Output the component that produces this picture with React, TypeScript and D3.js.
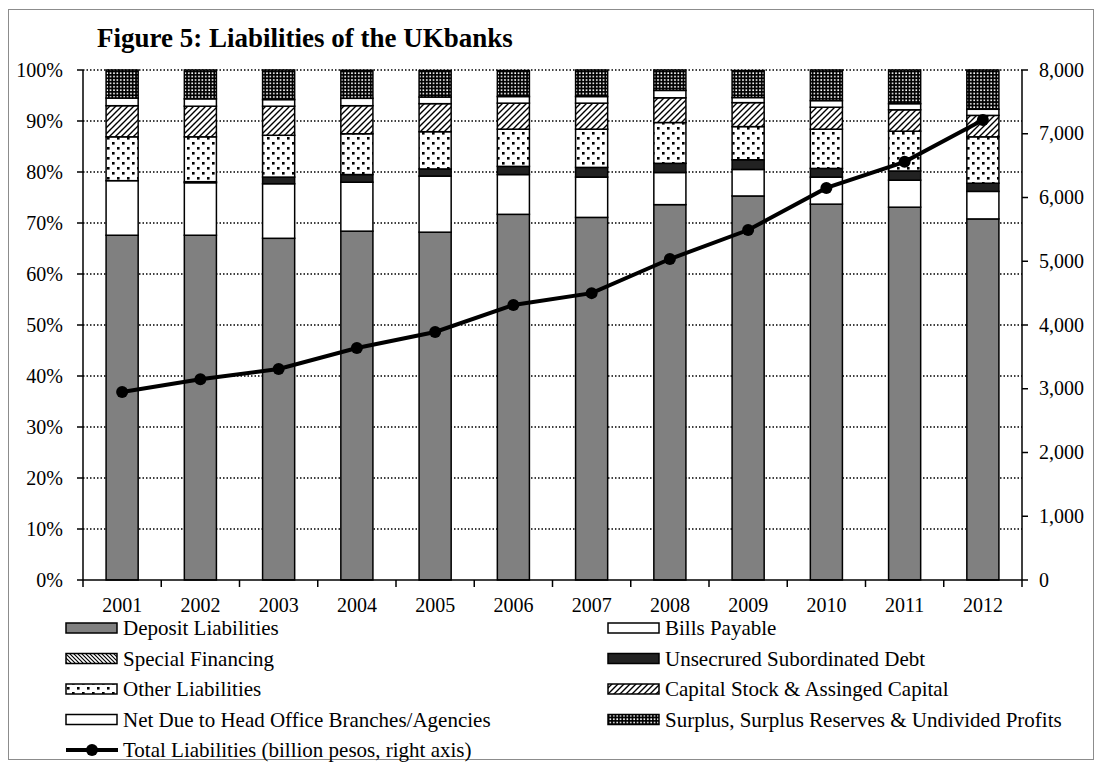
import React from "react";
import * as d3 from "d3";

const years = ["2001","2002","2003","2004","2005","2006","2007","2008","2009","2010","2011","2012"];
const seriesNames = [
  "Deposit Liabilities",
  "Bills Payable",
  "Special Financing",
  "Unsecrured Subordinated Debt",
  "Other Liabilities",
  "Capital Stock & Assinged Capital",
  "Net Due to Head Office Branches/Agencies",
  "Surplus, Surplus Reserves & Undivided Profits",
];
const deposit = [67.6, 67.6, 67.0, 68.4, 68.2, 71.7, 71.1, 73.6, 75.3, 73.7, 73.1, 70.8];
const bills = [10.7, 10.3, 10.7, 9.6, 11.0, 7.8, 7.9, 6.3, 5.2, 5.3, 5.3, 5.4];
const special = [0, 0, 0, 0, 0, 0, 0, 0, 0, 0, 0, 0];
const unsecured = [0.0, 0.2, 1.3, 1.5, 1.4, 1.6, 1.9, 1.8, 1.9, 1.7, 1.8, 1.6];
const other = [8.6, 8.8, 8.2, 8.0, 7.3, 7.3, 7.5, 8.0, 6.5, 7.7, 7.8, 9.1];
const capital = [6.1, 6.0, 5.7, 5.5, 5.5, 5.1, 5.1, 4.85, 4.7, 4.3, 4.2, 4.2];
const netDue = [1.5, 1.45, 1.3, 1.45, 1.3, 1.3, 1.3, 1.45, 1.0, 1.3, 1.2, 1.2];
const surplus = [5.5, 5.65, 5.8, 5.5, 5.2, 5.1, 5.2, 4.0, 5.3, 6.0, 6.6, 7.7];
const totalLiabilities = [2950, 3150, 3310, 3640, 3890, 4315, 4500, 5035, 5490, 6150, 6560, 7215];
const leftTicks = [0, 10, 20, 30, 40, 50, 60, 70, 80, 90, 100];
const rightTicks = [0, 1000, 2000, 3000, 4000, 5000, 6000, 7000, 8000];
const lineName = "Total Liabilities (billion pesos, right axis)";

const seriesValues = [deposit, bills, special, unsecured, other, capital, netDue, surplus];
const fills = [
  "#808080",
  "#ffffff",
  "url(#pSpecial)",
  "#222222",
  "url(#pDots)",
  "url(#pCapital)",
  "#ffffff",
  "url(#pSurplus)",
];

const FONT = "'Liberation Serif', 'Times New Roman', serif";
const TICK_FS = 20;
const LEG_FS = 21;
const TITLE_FS = 27;

export default function App() {
  const W = 1101, H = 763;
  const left = 83, right = 1022, top = 70, bottom = 580;
  const x = d3.scaleBand<string>().domain(years).range([left, right]).paddingInner(0.59).paddingOuter(0.295);
  const xb = d3.scaleBand<string>().domain(years).range([left, right]);
  const y = d3.scaleLinear().domain([0, 100]).range([bottom, top]);
  const y2 = d3.scaleLinear().domain([0, 8000]).range([bottom, top]);

  const rows = years.map((yr, i) => {
    const o: any = { year: yr };
    seriesNames.forEach((s, k) => (o[s] = seriesValues[k][i]));
    return o;
  });
  const stacked = d3.stack<any>().keys(seriesNames)(rows);

  const line = d3
    .line<number>()
    .x((_, i) => (xb(years[i]) as number) + xb.bandwidth() / 2)
    .y((d) => y2(d));

  const fmt = d3.format(",");

  const legendLeftX = 66, legendRightX = 608, legendY0 = 628, legendDy = 30.5;

  return (
    <svg width={W} height={H} style={{ position: "absolute", left: 0, top: 0, background: "#fff" }} fontFamily={FONT}>
      <defs>
        <pattern id="pSpecial" width="4" height="4" patternUnits="userSpaceOnUse">
          <rect width="4" height="4" fill="#fff" />
          <path d="M-1,-1 L5,5 M3,-1 L5,1 M-1,3 L1,5" stroke="#000" strokeWidth="1.2" />
        </pattern>
        <pattern id="pDots" width="10" height="10" patternUnits="userSpaceOnUse">
          <rect width="10" height="10" fill="#fff" />
          <rect x="2" y="2" width="2.6" height="2.6" fill="#000" />
          <rect x="7" y="7" width="2.6" height="2.6" fill="#000" />
        </pattern>
        <pattern id="pCapital" width="6" height="6" patternUnits="userSpaceOnUse">
          <rect width="6" height="6" fill="#fff" />
          <path d="M-1,7 L7,-1 M-1,1 L1,-1 M5,7 L7,5" stroke="#000" strokeWidth="1.4" />
        </pattern>
        <pattern id="pSurplus" width="3.4" height="3.4" patternUnits="userSpaceOnUse">
          <rect width="3.4" height="3.4" fill="#000" />
          <rect x="1" y="1" width="1.6" height="1.6" fill="#fff" />
        </pattern>
      </defs>

      <rect x={8.5} y={9.5} width={1085} height={750} fill="#fff" stroke="#8c8c8c" strokeWidth={1} />

      <text x={97} y={47} fontSize={TITLE_FS} fontWeight="bold" fill="#000">Figure 5: Liabilities of the UKbanks</text>

      {/* gridlines */}
      {leftTicks.filter((t) => t > 0).map((t) => (
        <line key={"g" + t} x1={left} x2={right} y1={y(t)} y2={y(t)} stroke="#000" strokeWidth={1.3} strokeDasharray="1.5,2" />
      ))}

      {/* bars */}
      {stacked.map((layer, k) => (
        <g key={layer.key}>
          {layer.map((d, i) => {
            const h = y(d[0]) - y(d[1]);
            if (h <= 0) return null;
            return (
              <rect key={i} x={x(years[i])} y={y(d[1])} width={x.bandwidth()} height={h}
                fill={fills[k]} stroke="#000" strokeWidth={1.5} />
            );
          })}
        </g>
      ))}

      {/* axes */}
      <line x1={left} x2={left} y1={top} y2={bottom} stroke="#000" strokeWidth={1.5} />
      <line x1={right} x2={right} y1={top} y2={bottom} stroke="#000" strokeWidth={1.5} />
      <line x1={left} x2={right} y1={bottom} y2={bottom} stroke="#000" strokeWidth={1.5} />
      {leftTicks.map((t) => (
        <g key={"l" + t}>
          <line x1={left - 6} x2={left} y1={y(t)} y2={y(t)} stroke="#000" strokeWidth={1.5} />
          <text x={63} y={y(t) + 6.5} textAnchor="end" fontSize={TICK_FS}>{t + "%"}</text>
        </g>
      ))}
      {rightTicks.map((t) => (
        <g key={"r" + t}>
          <line x1={right} x2={right + 6} y1={y2(t)} y2={y2(t)} stroke="#000" strokeWidth={1.5} />
          <text x={1039} y={y2(t) + 6.5} textAnchor="start" fontSize={TICK_FS}>{fmt(t)}</text>
        </g>
      ))}
      {years.map((yr) => (
        <line key={"xt" + yr} x1={(xb(yr) as number) + xb.bandwidth()} x2={(xb(yr) as number) + xb.bandwidth()}
          y1={bottom} y2={bottom + 7} stroke="#000" strokeWidth={1.5} />
      ))}
      <line x1={left} x2={left} y1={bottom} y2={bottom + 7} stroke="#000" strokeWidth={1.5} />
      {years.map((yr) => (
        <text key={"xl" + yr} x={(xb(yr) as number) + xb.bandwidth() / 2} y={612} textAnchor="middle" fontSize={TICK_FS}>{yr}</text>
      ))}

      {/* line */}
      <path d={line(totalLiabilities) || ""} fill="none" stroke="#000" strokeWidth={4} />
      {totalLiabilities.map((v, i) => (
        <circle key={"c" + i} cx={(xb(years[i]) as number) + xb.bandwidth() / 2} cy={y2(v)} r={6} fill="#000" />
      ))}

      {/* legend */}
      {seriesNames.map((s, k) => {
        const col = k % 2;
        const row = Math.floor(k / 2);
        const lx = col === 0 ? legendLeftX : legendRightX;
        const ly = legendY0 + row * legendDy;
        return (
          <g key={"lg" + s}>
            <rect x={lx} y={ly - 5} width={51} height={10} fill={fills[k]} stroke="#000" strokeWidth={1.5} />
            <text x={lx + 57} y={ly + 7} fontSize={LEG_FS}>{s}</text>
          </g>
        );
      })}
      <g>
        <line x1={legendLeftX} x2={legendLeftX + 52} y1={legendY0 + 4 * legendDy} y2={legendY0 + 4 * legendDy} stroke="#000" strokeWidth={4} />
        <circle cx={legendLeftX + 26} cy={legendY0 + 4 * legendDy} r={6} fill="#000" />
        <text x={legendLeftX + 57} y={legendY0 + 4 * legendDy + 7} fontSize={LEG_FS}>{lineName}</text>
      </g>
    </svg>
  );
}
